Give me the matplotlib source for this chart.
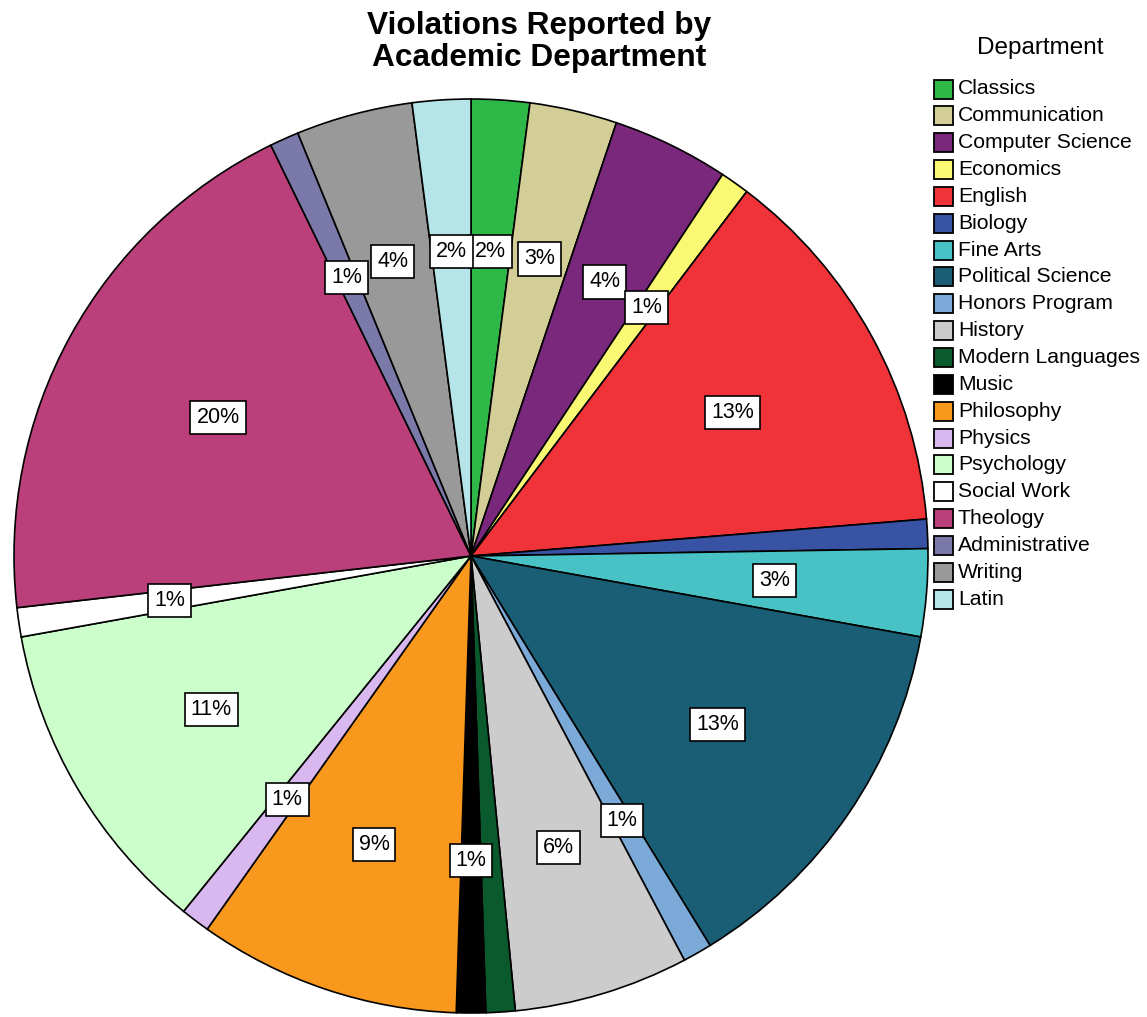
import matplotlib
matplotlib.use("Agg")
import numpy as np
import matplotlib.pyplot as plt
from matplotlib.patches import Rectangle

plt.rcParams['font.family'] = ['Liberation Sans', 'DejaVu Sans']

departments = ["Classics", "Communication", "Computer Science", "Economics", "English",
               "Biology", "Fine Arts", "Political Science", "Honors Program", "History",
               "Modern Languages", "Music", "Philosophy", "Physics", "Psychology",
               "Social Work", "Theology", "Administrative", "Writing", "Latin"]
counts = [2, 3, 4, 1, 13, 1, 3, 13, 1, 6, 1, 1, 9, 1, 11, 1, 19, 1, 4, 2]
# slices whose percentage label is hidden in the original (crowded)
hidden_labels = ["Biology", "Modern Languages"]
colors = ["#2EB848", "#D3CE97", "#79287B", "#FBF873", "#EF3338",
          "#3953A4", "#48C2C5", "#1A5E76", "#7BAAD9", "#CCCCCC",
          "#0B5A2D", "#000000", "#F8991D", "#D9B8EF", "#CCFECC",
          "#FFFFFF", "#BA3F7A", "#7A79A9", "#999999", "#B5E5E8"]
title = "Violations Reported by\nAcademic Department"
legend_title = "Department"

W, H = 1147, 1017
fig = plt.figure(figsize=(W / 100, H / 100), dpi=100)

cx, cy, R = 471, 556, 457
ax = fig.add_axes([(cx - R) / W, (H - cy - R) / H, 2 * R / W, 2 * R / H])
wedges, texts = ax.pie(
    counts, colors=colors, startangle=90, counterclock=False, radius=1,
    wedgeprops=dict(edgecolor='black', linewidth=1.2))
for w in wedges:
    w.set_clip_on(False)

total = sum(counts)
for w, name, c in zip(wedges, departments, counts):
    if name in hidden_labels:
        continue
    pct = 100.0 * c / total
    theta = np.deg2rad((w.theta1 + w.theta2) / 2)
    r = min(0.667, 0.70 - 0.0035 * pct)
    ax.text(r * np.cos(theta), r * np.sin(theta), f"{pct:.0f}%",
            ha='center', va='center', fontsize=15.5, color='black',
            bbox=dict(boxstyle='square,pad=0.28', facecolor='white',
                      edgecolor='black', linewidth=1.2))

ax.set_xlim(-1, 1)
ax.set_ylim(-1, 1)
ax.set_aspect('equal')
ax.axis('off')

fig.text(539 / W, 1 - 42 / H, title, ha='center', va='center', fontsize=22.8,
         fontweight='bold', linespacing=1.1)

# legend drawn in pixel space
lax = fig.add_axes([0, 0, 1, 1], facecolor='none')
lax.set_xlim(0, W)
lax.set_ylim(H, 0)
lax.axis('off')
lax.text(1040, 48, legend_title, ha='center', va='center', fontsize=17.5)
y0, dy, box = 89, 26.85, 19
for i, (name, col) in enumerate(zip(departments, colors)):
    y = y0 + i * dy
    lax.add_patch(Rectangle((934, y - box / 2), box, box, facecolor=col,
                            edgecolor='black', linewidth=1.3))
    lax.text(958, y, name, ha='left', va='center', fontsize=15.2)

fig.savefig("out.png", dpi=100)
